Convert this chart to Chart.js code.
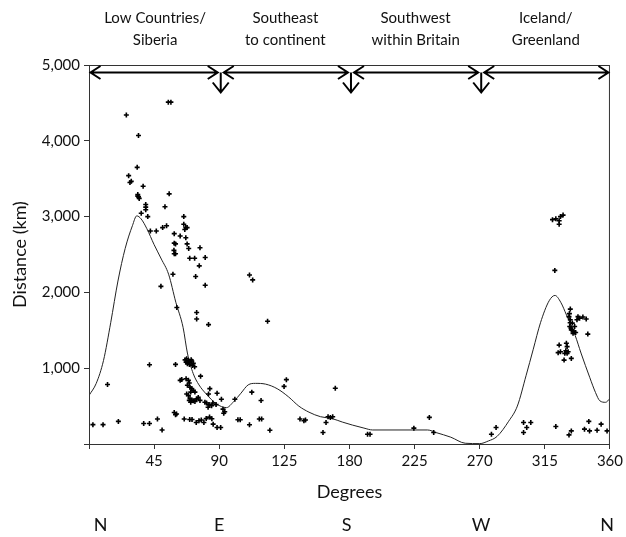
<!DOCTYPE html>
<html>
<head>
<meta charset="utf-8">
<script src="https://cdn.jsdelivr.net/npm/chart.js@4.4.1/dist/chart.umd.min.js"></script>
<style>
  html, body { margin: 0; padding: 0; background: #fff; }
  #wrap { width: 626px; height: 537px; position: relative; }
</style>
</head>
<body>
<div id="wrap"><canvas id="chart"></canvas></div>
<script>
// smoothed distance curve (degrees, km)
const curveDeg = [0, 5, 10, 15, 20, 25, 30, 33, 36, 40, 45, 50, 55, 60, 65, 68, 72, 76, 81, 88, 95, 100, 105, 110, 115, 122, 130, 138, 145, 152, 160, 168, 175, 182, 190, 196, 234, 240, 250, 260, 270, 276, 282, 290, 296, 302, 307, 312, 318, 322, 326, 330, 336, 340, 346, 350, 353, 357, 360];
const curveKm = [640, 800, 1100, 1600, 2150, 2580, 2880, 3010, 2970, 2840, 2630, 2440, 2240, 1870, 1540, 1200, 930, 780, 660, 530, 480, 560, 670, 780, 800, 790, 730, 620, 500, 420, 360, 335, 290, 250, 210, 185, 185, 150, 90, 10, 5, 40, 100, 300, 500, 900, 1250, 1600, 1890, 1960, 1870, 1700, 1430, 1200, 880, 680, 570, 550, 600];

// individual recoveries (degrees, km)
const obsDeg = [
  25.8, 34.2, 54.8, 56.6, 33.3, 27.4, 28.3, 29.2, 37.4, 33.7, 34.2, 34.7, 33.7,
  55.4, 39.2, 39.2, 39.2, 36.1, 40.6, 52.5, 50.9, 53.6, 42.4, 46.5,
  65.5, 65.5, 66.9, 67.8, 66.2, 58.9, 63, 66.9, 58.9, 59.8, 67.8, 68.9, 76.7,
  58.7, 58.9, 59.8, 69.6, 73, 80.3, 76.2, 58, 73.7, 49.7, 80.3, 110.9, 113.1,
  60.7, 74.4, 74.4, 82.6, 123.4, 41.8, 59.8,
  66.4, 67.5, 68.7, 69.8, 71, 72.1, 67.1, 69.4, 68, 71.4, 73, 70.6, 77.1, 12.8,
  63, 64.1, 67.1, 68.7, 68, 69.8, 71, 69.3, 72.1, 73.2, 70.3,
  67.5, 68.7, 69.8, 71, 72.1, 73.2, 70.3, 74.4, 76.7, 75.5, 69.3,
  80.1, 81.2, 83, 84.7, 82.3, 83.5, 88.5, 91.5, 92.6, 93.8, 93.1, 82.6, 85.6, 87.8,
  100.8, 112.5, 118.9,
  2.7, 9.7, 20.3, 37.8, 41.8, 47.3, 50.5, 58.9, 60.5, 59.8,
  65.8, 69.6, 71.2, 74.1, 76, 77.6, 79.4, 81, 83.3, 84.9, 85.8, 88.5, 91,
  102.9, 104.5, 110.9, 117.7, 119.3, 125,
  136.4, 134.8, 145.8, 149.6, 148.5, 161.7, 163.8, 165.2, 166.8, 168.4, 170.2,
  192.5, 194.2, 224.5, 235.2, 238.2, 278.1, 281.3,
  300.3, 302.5, 300.3, 305.3, 322.6, 331.7, 333.3, 342.4, 345.4, 345.9, 351.1, 353.9, 358,
  320.3, 322.6, 324.9, 325.8, 327.6, 324.9, 321.9, 332.6,
  331.7, 332.6, 332.2, 333.3, 334.5, 336.3, 337.9, 339, 341.3, 343.6, 337.2, 335.6, 334, 344.7,
  332, 332.5, 333, 334, 335,
  324.9, 329.9, 330.4, 324.2, 325.8, 329.5, 331.1, 328.8, 330.4, 328.3, 333.3
];
const obsKm = [
  4340, 4070, 4510, 4510, 3650, 3540, 3450, 3465, 3400, 3290, 3260, 3240, 3270,
  3300, 3160, 3125, 3090, 3045, 3000, 3130, 2855, 2880, 2810, 2810,
  3000, 2900, 2855, 2855, 2830, 2775, 2745, 2720, 2650, 2640, 2640, 2580, 2590,
  2555, 2510, 2510, 2450, 2450, 2460, 2350, 2240, 2210, 2080, 2095, 2230, 2165,
  1800, 1735, 1650, 1575, 1620, 1045, 1050,
  1110, 1125, 1100, 1080, 1095, 1065, 1080, 1050, 1060, 1035, 1020, 1110, 895, 785,
  840, 850, 860, 840, 775, 750, 730, 805, 705, 685, 685,
  660, 640, 600, 580, 570, 560, 550, 595, 575, 615, 575,
  550, 540, 520, 505, 485, 730, 670, 590, 460, 425, 405, 660, 540, 520,
  590, 684, 573,
  255, 255, 298, 271, 271, 329, 185, 415, 396, 387,
  329, 324, 324, 284, 307, 316, 284, 335, 355, 333, 262, 218, 218,
  320, 320, 253, 329, 329, 182,
  849, 760, 329, 316, 307, 151, 284, 360, 351, 360, 735,
  129, 129, 209, 351, 151, 129, 218,
  284, 218, 151, 284, 231, 120, 173, 196, 298, 173, 182, 262, 173,
  2960, 2970, 2945, 3000, 3020, 2900, 2290, 1780,
  1680, 1640, 1550, 1505, 1460, 1470, 1680, 1660, 1675, 1650, 1640, 1550, 1595, 1450,
  1720, 1600, 1530, 1500, 1480,
  1305, 1330, 1285, 1205, 1218, 1231, 1218, 1196, 1196, 1107, 1129
];

const xTickValues = [0, 45, 90, 135, 180, 225, 270, 315, 360];
const xTickLabels = ['', '45', '90', '125', '180', '225', '270', '315', '360'];
const yTickValues = [0, 1000, 2000, 3000, 4000, 5000];

const sectorBounds = [0, 90, 180, 270, 360];
const sectorCentres = [45, 135, 225, 315];
const sectorLabels = [
  ['Low Countries/', 'Siberia'],
  ['Southeast', 'to continent'],
  ['Southwest', 'within Britain'],
  ['Iceland/', 'Greenland']
];
const compassDeg = [8, 90, 178, 271, 358];
const compassLabels = ['N', 'E', 'S', 'W', 'N'];

const FONT = "Lato, 'Open Sans', sans-serif";
const INK = '#111';

const curveData = curveDeg.map((d, i) => ({ x: d, y: curveKm[i] }));
const obsData = obsDeg.map((d, i) => ({ x: d, y: obsKm[i] }));

// box, sector arrows and text around the plot
const decorations = {
  id: 'decorations',
  afterDraw(chart) {
    const { ctx, chartArea: a, scales: { x } } = chart;
    ctx.save();
    ctx.strokeStyle = '#333';
    ctx.lineWidth = 1;
    ctx.strokeRect(a.left + 0.5, a.top + 0.5, a.right - a.left - 1, a.bottom - a.top);

    // double headed arrows for each sector
    const ay = a.top + 7.5;
    ctx.strokeStyle = '#000';
    ctx.lineWidth = 2;
    for (let i = 0; i < sectorBounds.length - 1; i++) {
      const x0 = x.getPixelForValue(sectorBounds[i]) + (i === 0 ? 1.5 : 4.5);
      const x1 = x.getPixelForValue(sectorBounds[i + 1]) - 1.5;
      ctx.beginPath();
      ctx.moveTo(x0, ay); ctx.lineTo(x1, ay);
      ctx.moveTo(x0 + 10, ay - 6.5); ctx.lineTo(x0, ay); ctx.lineTo(x0 + 10, ay + 6.5);
      ctx.moveTo(x1 - 10, ay - 6.5); ctx.lineTo(x1, ay); ctx.lineTo(x1 - 10, ay + 6.5);
      ctx.stroke();
    }
    // down arrows at the sector boundaries
    for (let i = 1; i < sectorBounds.length - 1; i++) {
      const cx = x.getPixelForValue(sectorBounds[i]) + 1.5;
      ctx.beginPath();
      ctx.moveTo(cx, ay); ctx.lineTo(cx, ay + 20);
      ctx.moveTo(cx - 8, ay + 10); ctx.lineTo(cx, ay + 20); ctx.lineTo(cx + 8, ay + 10);
      ctx.stroke();
    }

    ctx.fillStyle = INK;
    ctx.textAlign = 'center';
    ctx.textBaseline = 'middle';
    ctx.font = '15px ' + FONT;
    sectorLabels.forEach((lines, i) => {
      const cx = x.getPixelForValue(sectorCentres[i]) + 1;
      lines.forEach((t, j) => ctx.fillText(t, cx, 18 + j * 22));
    });

    ctx.font = '18px ' + FONT;
    compassLabels.forEach((t, i) => {
      ctx.fillText(t, x.getPixelForValue(compassDeg[i]), 525);
    });
    ctx.restore();
  }
};

new Chart(document.getElementById('chart'), {
  type: 'scatter',
  data: {
    datasets: [
      {
        label: 'Smoothed',
        data: curveData,
        showLine: true,
        borderColor: '#222',
        borderWidth: 1,
        pointRadius: 0,
        tension: 0.4,
        cubicInterpolationMode: 'monotone',
        order: 2
      },
      {
        label: 'Recoveries',
        data: obsData,
        pointStyle: 'cross',
        pointRadius: 2.5,
        borderColor: '#000',
        backgroundColor: '#000',
        borderWidth: 1.6,
        order: 1
      }
    ]
  },
  options: {
    responsive: true,
    maintainAspectRatio: false,
    animation: false,
    layout: { padding: { top: 65, right: 11, left: 0, bottom: 0 } },
    plugins: {
      legend: { display: false },
      tooltip: { enabled: false }
    },
    scales: {
      x: {
        type: 'linear',
        min: 0,
        max: 360,
        afterBuildTicks: s => { s.ticks = xTickValues.map(v => ({ value: v })); },
        afterFit: s => { s.height = 93; },
        ticks: {
          callback: (v, i) => xTickLabels[i],
          color: INK,
          font: { family: FONT, size: 15 },
          maxRotation: 0,
          autoSkip: false,
          padding: 3
        },
        grid: { drawOnChartArea: false, tickLength: 5, color: '#333' },
        border: { color: '#333' },
        title: {
          display: true,
          text: 'Degrees',
          color: INK,
          font: { family: FONT, size: 18 },
          padding: { top: 4, bottom: 34 }
        }
      },
      y: {
        type: 'linear',
        min: 0,
        max: 5000,
        afterBuildTicks: s => { s.ticks = yTickValues.map(v => ({ value: v })); },
        afterFit: s => { s.width = 89; },
        ticks: {
          callback: v => v === 0 ? '' : v.toLocaleString('en-US'),
          color: INK,
          font: { family: FONT, size: 15 },
          padding: 4
        },
        grid: { drawOnChartArea: false, tickLength: 5, color: '#333' },
        border: { color: '#333' },
        title: {
          display: true,
          text: 'Distance (km)',
          color: INK,
          font: { family: FONT, size: 18 },
          padding: { top: 9, bottom: 0 }
        }
      }
    }
  },
  plugins: [decorations]
});
</script>
</body>
</html>
